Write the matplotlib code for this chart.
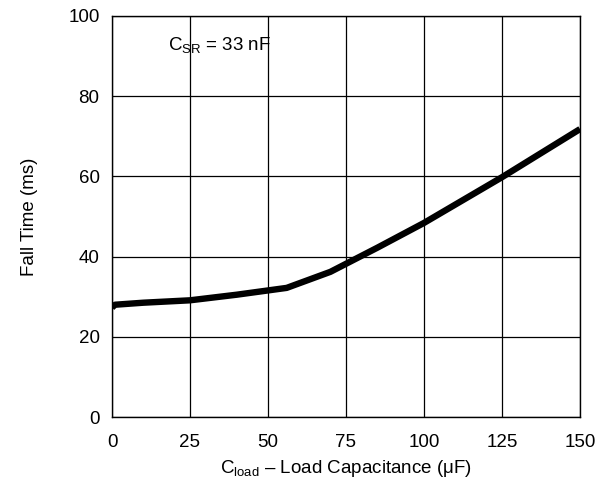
import matplotlib
matplotlib.use("Agg")
import matplotlib.pyplot as plt

plt.rcParams['font.family'] = ['Liberation Sans', 'DejaVu Sans']
plt.rcParams['mathtext.fontset'] = 'custom'
plt.rcParams['mathtext.rm'] = 'Liberation Sans'

cload = [0, 1, 10, 25, 40, 56, 70, 85, 100, 125, 150]
fall_time = [27.3, 28.0, 28.5, 29.1, 30.5, 32.2, 36.2, 42.2, 48.4, 59.8, 71.8]

x_ticks = [0, 25, 50, 75, 100, 125, 150]
y_ticks = [0, 20, 40, 60, 80, 100]

fig = plt.figure(figsize=(6.02, 4.82), dpi=100)
ax = fig.add_axes([112/602, 1 - 417/482, 468/602, 401/482])
ax.plot(cload, fall_time, color='black', lw=4.6, solid_capstyle='butt', solid_joinstyle='round')
ax.set_xlim(0, 150)
ax.set_ylim(0, 100)
ax.set_xticks(x_ticks)
ax.set_yticks(y_ticks)
ax.grid(True, color='black', lw=0.9)
ax.tick_params(axis='x', length=0, labelsize=13.5, pad=12)
ax.tick_params(axis='y', length=0, labelsize=13.5, pad=9)
for s in ax.spines.values():
    s.set_linewidth(1.0)
ax.set_xlabel(r'C$_{\mathregular{load}}$ – Load Capacitance (μF)', fontsize=13.5, labelpad=5)
ax.set_ylabel('Fall Time (ms)', fontsize=13.5, labelpad=22)
ax.text(0.12, 0.925, r'C$_{\mathregular{SR}}$ = 33 nF', transform=ax.transAxes, fontsize=13.5, va='center', ha='left')
fig.savefig('out.png', dpi=100)
